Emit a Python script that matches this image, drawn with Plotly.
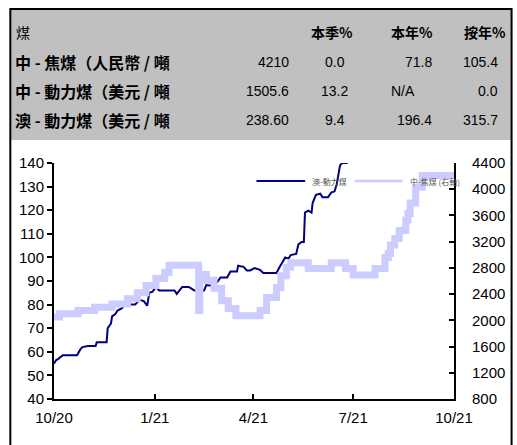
import plotly.graph_objects as go

# ---- series data ----
# 澳-動力煤 (left axis)
aus_dates = [
    "2020-10-01", "2020-10-03", "2020-10-05", "2020-10-06", "2020-10-09", "2020-10-22",
    "2020-10-25", "2020-10-27", "2020-11-01", "2020-11-08", "2020-11-09", "2020-11-18",
    "2020-11-19", "2020-11-22", "2020-11-23", "2020-11-26", "2020-11-28", "2020-12-02",
    "2020-12-04", "2020-12-14", "2020-12-16", "2020-12-18", "2020-12-22", "2020-12-25",
    "2020-12-27", "2020-12-30", "2021-01-02", "2021-01-05", "2021-01-19", "2021-01-21",
    "2021-01-26", "2021-02-01", "2021-02-06", "2021-02-15", "2021-02-17", "2021-02-21",
    "2021-02-23", "2021-02-27", "2021-03-02", "2021-03-08", "2021-03-11", "2021-03-17",
    "2021-03-18", "2021-03-23", "2021-03-26", "2021-03-29", "2021-04-02", "2021-04-07",
    "2021-04-10", "2021-04-22", "2021-04-25", "2021-04-27", "2021-04-30", "2021-05-03",
    "2021-05-05", "2021-05-10", "2021-05-12", "2021-05-15", "2021-05-17", "2021-05-18",
    "2021-05-21", "2021-05-24", "2021-05-25", "2021-05-28", "2021-06-01", "2021-06-03",
    "2021-06-08", "2021-06-11", "2021-06-14", "2021-06-16", "2021-06-19", "2021-06-21",
    "2021-06-26",
]
aus_values = [
    55.0, 56.5, 57.0, 57.5, 58.5, 58.5,
    61.0, 62.0, 62.5, 62.5, 64.0, 64.0,
    70.0, 72.0, 75.0, 76.0, 77.5, 78.5,
    80.0, 80.0, 81.0, 82.0, 81.5, 79.5,
    85.0, 85.5, 87.5, 86.0, 86.0, 84.5,
    87.5, 87.5, 86.0, 86.0, 88.3, 88.0,
    89.6, 89.6, 91.5, 91.5, 94.0, 94.0,
    96.5, 96.0, 94.5, 94.5, 95.5, 94.7,
    93.4, 93.4, 96.0, 97.5, 100.0, 99.5,
    101.0, 101.5, 105.5, 106.5, 106.5, 119.0,
    119.8, 119.0, 123.0, 126.5, 127.0, 125.5,
    125.5, 127.5, 128.0, 131.0, 139.0, 140.0,
    140.0,
]

# 中-焦煤 (right axis), price change dates
coke_dates = [
    "2020-10-01", "2020-10-06", "2020-10-23", "2020-11-07", "2020-11-23", "2020-12-07",
    "2020-12-16", "2020-12-24", "2021-01-02", "2021-01-10", "2021-01-14", "2021-02-10",
    "2021-02-11", "2021-02-17", "2021-02-24", "2021-03-03", "2021-03-09", "2021-03-16",
    "2021-04-07", "2021-04-13", "2021-04-22", "2021-04-26", "2021-05-01", "2021-05-05",
    "2021-05-21", "2021-06-11", "2021-06-24", "2021-07-01", "2021-07-21", "2021-07-30",
    "2021-08-02", "2021-08-04", "2021-08-08", "2021-08-12", "2021-08-18", "2021-08-20",
    "2021-08-22", "2021-08-27", "2021-09-02", "2021-10-01",
]
coke_values = [
    2050, 2100, 2150, 2200, 2250, 2330,
    2420, 2530, 2640, 2730, 2840, 2150,
    2700, 2610, 2490, 2300, 2180, 2070,
    2150, 2350, 2500, 2680, 2810, 2880,
    2790, 2880, 2790, 2690, 2790, 2960,
    3020, 3150, 3250, 3370, 3530, 3630,
    3790, 4030, 4210, 4210,
]

# ---- axes ----
x_tick_dates = ["2020-10-01", "2021-01-01", "2021-04-01", "2021-07-01", "2021-10-01"]
x_tick_text = ["10/20", "1/21", "4/21", "7/21", "10/21"]
left_ticks = [40, 50, 60, 70, 80, 90, 100, 110, 120, 130, 140]
right_ticks = [800, 1200, 1600, 2000, 2400, 2800, 3200, 3600, 4000, 4400]

# ---- table above the chart ----
table_header = ["煤", "本季%", "本年%", "按年%"]
table_rows = ["中 - 焦煤（人民幣 / 噸", "中 - 動力煤（美元 / 噸", "澳 - 動力煤（美元 / 噸"]
table_price = ["4210", "1505.6", "238.60"]
table_qtd = ["0.0", "13.2", "9.4"]
table_ytd = ["71.8", "N/A", "196.4"]
table_yoy = ["105.4", "0.0", "315.7"]

legend_names = ["澳-動力煤", "中-焦煤 (右軸)"]

DARK = "#000080"
LIGHT = "#CCCCFF"
FONT = "Liberation Sans, Arial, Noto Sans CJK TC, sans-serif"
CJK = "Noto Sans CJK TC, Liberation Sans, sans-serif"

W, H = 517, 445
L, R, T, B = 54, 60, 163, 46
PW, PH = W - L - R, H - T - B


def px(x):
    return (x - L) / PW


def py(y):
    return (H - B - y) / PH


fig = go.Figure()
fig.add_trace(go.Scatter(
    x=coke_dates, y=coke_values, yaxis="y2", mode="lines",
    line=dict(color=LIGHT, width=7, shape="hv"), name=legend_names[1],
))
fig.add_trace(go.Scatter(
    x=aus_dates, y=aus_values, mode="lines",
    line=dict(color=DARK, width=2), name=legend_names[0],
))

shapes = [
    # grey table background
    dict(type="rect", xref="paper", yref="paper", x0=px(10), x1=px(515), y0=py(140), y1=py(10),
         fillcolor="#C0C0C0", line=dict(width=0), layer="below"),
    # outer frame
    dict(type="rect", xref="paper", yref="paper", x0=px(10), x1=px(515), y0=py(452), y1=py(9),
         line=dict(color="black", width=2), fillcolor="rgba(0,0,0,0)"),
    # legend samples
    dict(type="line", xref="paper", yref="paper", x0=px(258), x1=px(307), y0=py(181), y1=py(181),
         line=dict(color=DARK, width=2)),
    dict(type="line", xref="paper", yref="paper", x0=px(357), x1=px(405), y0=py(181), y1=py(181),
         line=dict(color=LIGHT, width=2.5)),
]

annotations = []


def note(text, x, y, anchor, size=14, family=FONT, color="black"):
    annotations.append(dict(
        text=text, xref="paper", yref="paper", x=px(x), y=py(y),
        xanchor=anchor, yanchor="middle", showarrow=False,
        font=dict(family=family, size=size, color=color),
    ))


row_y = [62, 91, 120]
note(table_header[0], 14, 32, "left", size=14, family=CJK)
note("<b>" + table_header[1] + "</b>", 334, 32, "center", size=14, family=CJK)
note("<b>" + table_header[2] + "</b>", 392, 32, "left", size=14, family=CJK)
note("<b>" + table_header[3] + "</b>", 465, 32, "left", size=14, family=CJK)
for i, yy in enumerate(row_y):
    note("<b>" + table_rows[i] + "</b>", 13, yy, "left", size=16, family=CJK)
    note(table_price[i], 293, yy, "right")
    note(table_qtd[i], 337, yy, "center")
    if table_ytd[i] == "N/A":
        note(table_ytd[i], 392, yy, "left")
    else:
        note(table_ytd[i], 437, yy, "right")
    note(table_yoy[i], 503, yy, "right")

note(legend_names[0], 312, 181, "left", size=8, family=CJK, color="#555555")
note(legend_names[1], 411, 181, "left", size=8, family=CJK, color="#555555")

fig.update_layout(
    width=W, height=H,
    margin=dict(l=L, r=R, t=T, b=B),
    paper_bgcolor="white", plot_bgcolor="white",
    showlegend=False,
    font=dict(family=FONT, size=15, color="black"),
    xaxis=dict(
        type="date", range=["2020-10-01", "2021-10-01"],
        tickvals=x_tick_dates, ticktext=x_tick_text,
        showgrid=False, zeroline=False,
        showline=True, linecolor="black", linewidth=2,
        ticks="inside", ticklen=5, tickwidth=2, tickcolor="black",
        tickfont=dict(size=15), ticklabelstandoff=4,
    ),
    yaxis=dict(
        range=[40, 140], tickvals=left_ticks,
        showgrid=False, zeroline=False,
        showline=True, linecolor="black", linewidth=2,
        ticks="outside", ticklen=5, tickwidth=2, tickcolor="black",
        tickfont=dict(size=15),
    ),
    yaxis2=dict(
        range=[800, 4400], tickvals=right_ticks,
        overlaying="y", side="right",
        showgrid=False, zeroline=False,
        showline=True, linecolor="black", linewidth=2,
        ticks="inside", ticklen=5, tickwidth=2, tickcolor="black",
        tickfont=dict(size=15), ticklabelstandoff=13,
    ),
    shapes=shapes,
    annotations=annotations,
)

fig.write_html("out.html")
